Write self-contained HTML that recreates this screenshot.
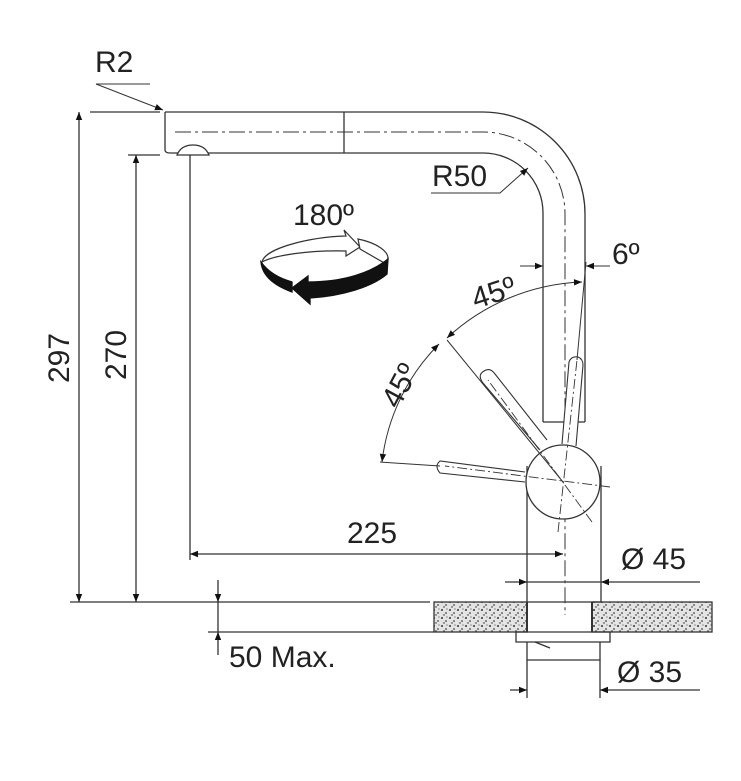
<!DOCTYPE html>
<html><head><style>body{margin:0;background:#fff}svg{display:block}text{font-family:"Liberation Sans",sans-serif;fill:#222}</style></head>
<body>
<svg width="741" height="781" viewBox="0 0 741 781" xmlns="http://www.w3.org/2000/svg">
<defs>
<marker id="a" viewBox="0 0 10 10" refX="10" refY="5" markerWidth="13" markerHeight="8" orient="auto-start-reverse" markerUnits="userSpaceOnUse"><path d="M0,1 L10,5 L0,9z" fill="#111"/></marker>
<pattern id="g" width="8" height="8" patternUnits="userSpaceOnUse"><rect width="8" height="8" fill="#e4e4e4"/><circle cx="2" cy="2" r="1" fill="#333"/><circle cx="6" cy="5" r="0.9" fill="#444"/><circle cx="4" cy="7" r="0.7" fill="#222"/><circle cx="7" cy="1" r="0.6" fill="#555"/></pattern>
</defs>
<g fill="none" stroke="#333" stroke-width="1.3">
<path d="M165,112 L483,112 A102,102 0 0 1 585,214 L585,422"/>
<path d="M165,112 L165,150 Q165,153 170,153 L483,153 A60,60 0 0 1 543,213 L543,422"/>
<line x1="344" y1="112" x2="344" y2="153"/>
<path d="M177,155 Q181,145 193,145 Q205,145 209,155 Z" fill="#fff"/>
<path d="M175,132 L483,132 A82,82 0 0 1 565,214 L565,615" stroke-dasharray="16,4,3,4" stroke-width="1"/>
<line x1="543" y1="422" x2="585" y2="422"/>
<path d="M527,466 L527,602 M601,466 L601,602"/>
<g stroke-width="1.1" fill="#fff">
<path d="M540,450 L483,383 Q477,375 484,371 Q490,367 495,374 L547,440"/>
<path d="M525,472 L440,461 Q434,466 440,473 L525,482"/>
<path d="M562,444 L569,362 Q571,356 578,357 Q583,359 583,365 L576,446"/>
</g>
<circle cx="563" cy="482" r="37" fill="#fff"/>
<g stroke-width="0.9" stroke-dasharray="10,3,2,3">
<line x1="592" y1="522" x2="488" y2="380"/>
<line x1="610" y1="487" x2="445" y2="466"/>
<line x1="558" y1="532" x2="577" y2="360"/>
</g>
<line x1="563" y1="482" x2="447" y2="340" stroke-width="1"/>
<line x1="440" y1="466" x2="380" y2="462" stroke-width="1"/>
<line x1="577" y1="360" x2="586" y2="262" stroke-width="1"/>
<path d="M582,282 A210,210 0 0 0 447,338" marker-start="url(#a)" marker-end="url(#a)" stroke-width="1"/>
<path d="M439,344 A200,200 0 0 0 382,462" marker-start="url(#a)" marker-end="url(#a)" stroke-width="1"/>
<line x1="520" y1="266" x2="543" y2="266" marker-end="url(#a)" stroke-width="1"/>
<line x1="610" y1="266" x2="586" y2="266" marker-end="url(#a)" stroke-width="1"/>
<rect x="434" y="602" width="93" height="30" fill="url(#g)"/>
<rect x="592" y="602" width="120" height="30" fill="url(#g)"/>
<path d="M527,602 L527,632 M592,602 L592,632" stroke-width="2"/>
<line x1="527" y1="602" x2="601" y2="602"/>
<path d="M516,632 L610,632 L610,642 L516,642 Z"/>
<path d="M527,642 L527,660 L600,660 L600,642"/>
<path d="M535,642 L550,648"/>
<line x1="90" y1="112" x2="160" y2="112"/>
<line x1="128" y1="155" x2="160" y2="155"/>
<line x1="70" y1="602" x2="430" y2="602"/>
<line x1="79" y1="112" x2="79" y2="602" marker-start="url(#a)" marker-end="url(#a)"/>
<line x1="136" y1="155" x2="136" y2="602" marker-start="url(#a)" marker-end="url(#a)"/>
<line x1="190" y1="155" x2="190" y2="560"/>
<line x1="190" y1="554" x2="563" y2="554" marker-start="url(#a)" marker-end="url(#a)"/>
<line x1="505" y1="582" x2="527" y2="582" marker-end="url(#a)"/>
<line x1="700" y1="582" x2="601" y2="582" marker-end="url(#a)"/>
<line x1="601" y1="582" x2="527" y2="582"/>
<line x1="527" y1="660" x2="527" y2="698"/><line x1="600" y1="660" x2="600" y2="698"/>
<line x1="510" y1="690" x2="527" y2="690" marker-end="url(#a)"/>
<line x1="700" y1="690" x2="600" y2="690" marker-end="url(#a)"/>
<line x1="218" y1="580" x2="218" y2="602" marker-end="url(#a)"/>
<line x1="218" y1="655" x2="218" y2="632" marker-end="url(#a)"/>
<line x1="208" y1="632" x2="434" y2="632"/>
<line x1="218" y1="602" x2="218" y2="632"/>
<line x1="96" y1="84" x2="163" y2="110" stroke-width="1" marker-end="url(#a)"/>
<line x1="96" y1="84" x2="150" y2="84" stroke-width="1"/>
<path d="M431,193 L500,193 L528,168" marker-end="url(#a)" stroke-width="1"/>
<g stroke-width="1.2" fill="#fff">
<path d="M262,262 C265,248 310,237 346,236 L344,230 L360,247 L346,256 L346,251 C310,250 275,255 262,262 Z"/>
<path d="M358,239 C378,243 388,252 388,258 L386,264 L360,249 Z"/>
</g>
<path d="M261,262 C262,273 270,284 292,292 L292,282 C278,278 268,272 261,262 Z" fill="#111" stroke="#111"/>
<path d="M292,288 L308,276 L308,282 C345,282 372,272 388,259 L387,274 C372,287 342,296 310,298 L310,304 Z" fill="#111" stroke="#111"/>
</g>
<g font-size="30">
<text x="95" y="72">R2</text>
<text x="432" y="186">R50</text>
<text x="293" y="225">180º</text>
<text x="612" y="264">6º</text>
<text x="472" y="304" transform="rotate(-18 490 295)">45º</text>
<text x="378" y="404" transform="rotate(-62 393 390)">45º</text>
<text x="347" y="543">225</text>
<text x="621" y="569">Ø 45</text>
<text x="617" y="682">Ø 35</text>
<text x="229" y="667">50 Max.</text>
<text transform="translate(69 358) rotate(-90)" text-anchor="middle">297</text>
<text transform="translate(126 355) rotate(-90)" text-anchor="middle">270</text>
</g>
</svg>
</body></html>
